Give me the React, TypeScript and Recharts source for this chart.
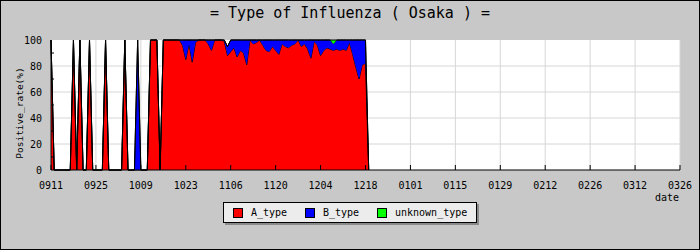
import { AreaChart, Area, XAxis, YAxis, CartesianGrid, Label } from "recharts";

// one value per day, starting 09/11 (index 0)
const aType = [
  100, 0, 0, 0, 0, 0, 0, 100, 0, 100,
  0, 0, 100, 0, 0, 0, 0, 100, 0, 0,
  0, 0, 0, 100, 0, 0, 0, 0, 0, 0,
  0, 100, 100, 100, 0, 100, 100, 100, 100, 100,
  100, 96, 85, 97, 83, 98, 100, 100, 100, 97,
  92, 100, 100, 100, 99, 88, 91, 94, 87, 92,
  90, 81, 100, 97, 98, 100, 96, 92, 91, 95,
  92, 89, 97, 95, 94, 96, 97, 100, 95, 97,
  93, 86, 99, 96, 88, 92, 94, 93, 92, 93,
  92, 93, 92, 98, 89, 79, 70, 81, 82, 0,
];

const bType = [
  0, 0, 0, 0, 0, 0, 0, 0, 0, 0,
  0, 0, 0, 0, 0, 0, 0, 0, 0, 0,
  0, 0, 0, 0, 0, 0, 0, 100, 0, 0,
  0, 0, 0, 0, 0, 0, 0, 0, 0, 0,
  0, 4, 15, 3, 17, 2, 0, 0, 0, 3,
  8, 0, 0, 0, 1, 7, 9, 6, 13, 8,
  10, 19, 0, 3, 2, 0, 4, 8, 9, 5,
  8, 11, 3, 5, 6, 4, 3, 0, 5, 3,
  7, 14, 1, 4, 12, 8, 6, 7, 5, 7,
  8, 7, 8, 2, 11, 21, 30, 19, 18, 0,
];

const unknownType = aType.map((_, i) => (i === 88 ? 3 : 0));

const dateLabels = [
  "0911", "0925", "1009", "1023", "1106", "1120", "1204", "1218",
  "0101", "0115", "0129", "0212", "0226", "0312", "0326",
];
const tickDays = dateLabels.map((_, i) => i * 14);
const yTicks = [0, 10, 20, 30, 40, 50, 60, 70, 80, 90, 100];

const series = [
  { key: "A", name: "A_type", color: "#ff0000" },
  { key: "B", name: "B_type", color: "#0000ff" },
  { key: "U", name: "unknown_type", color: "#00ff00" },
];

const data = aType.map((a, i) => ({
  day: i,
  A: a,
  B: bType[i],
  U: unknownType[i],
}));

const FONT = "'DejaVu Sans Mono', monospace";

const XTick = (props: any) => {
  const { x, y, payload } = props;
  const label = dateLabels[Math.round(payload.value / 14)];
  return (
    <g>
      <line x1={x} x2={x} y1={y} y2={y - 5} stroke="#000" />
      <text x={x} y={y + 18.5} textAnchor="middle" fontSize={10} fontFamily={FONT} fill="#000">
        {label}
      </text>
    </g>
  );
};

const YTick = (props: any) => {
  const { x, y, payload } = props;
  if (payload.value % 20 !== 0) {
    return <line x1={x} x2={x + 3} y1={y} y2={y} stroke="#000" />;
  }
  return (
    <text x={x - 9} y={y + 3.5} textAnchor="end" fontSize={10} fontFamily={FONT} fill="#000">
      {payload.value}
    </text>
  );
};

export default function App() {
  return (
    <div
      style={{
        position: "fixed",
        left: 0,
        top: 0,
        width: 700,
        height: 250,
        background: "#c8c8c8",
        overflow: "hidden",
        fontFamily: FONT,
      }}
    >
      <div
        style={{
          position: "absolute",
          left: 0,
          top: 4,
          width: 700,
          textAlign: "center",
          fontSize: 15,
          lineHeight: "18px",
          color: "#000",
        }}
      >
        = Type of Influenza ( Osaka ) =
      </div>

      <div style={{ position: "absolute", left: 0, top: 0 }}>
        <AreaChart
          width={700}
          height={250}
          data={data}
          margin={{ top: 40, right: 20, bottom: 0, left: 0 }}
        >
          <CartesianGrid
            stroke="#d6d6d6"
            fill="#ffffff"
            fillOpacity={1}
            horizontalValues={[20, 40, 60, 80]}
            verticalValues={tickDays}
          />
          {series.map((s) => (
            <Area
              key={s.key}
              type="linear"
              dataKey={s.key}
              stackId="1"
              fill={s.color}
              fillOpacity={1}
              stroke="#000"
              strokeWidth={1}
              dot={false}
              activeDot={false}
              isAnimationActive={false}
            />
          ))}
          <XAxis
            type="number"
            dataKey="day"
            domain={[0, 196]}
            ticks={tickDays}
            interval={0}
            height={80}
            tickSize={0}
            tickMargin={0}
            tickLine={false}
            axisLine={{ stroke: "#000" }}
            tick={<XTick />}
          >
            <Label
              content={() => (
                <text x={667} y={200.5} textAnchor="middle" fontSize={10} fontFamily={FONT} fill="#000">
                  date
                </text>
              )}
            />
          </XAxis>
          <YAxis
            type="number"
            domain={[0, 100]}
            ticks={yTicks}
            interval={0}
            width={51}
            tickSize={0}
            tickMargin={0}
            tickLine={false}
            axisLine={{ stroke: "#000" }}
            tick={<YTick />}
          >
            <Label
              content={() => (
                <text
                  x={19}
                  y={113}
                  transform="rotate(-90 19 113)"
                  textAnchor="middle"
                  dominantBaseline="central"
                  fontSize={9.5}
                  fontFamily={FONT}
                  fill="#000"
                >
                  Positive_rate(%)
                </text>
              )}
            />
          </YAxis>
        </AreaChart>
      </div>

      <div
        style={{
          position: "absolute",
          left: 223,
          top: 202,
          width: 254,
          height: 21,
          boxSizing: "border-box",
          background: "#ececec",
          border: "1px solid #000",
          boxShadow: "2px 2px 0 #8a8a8a",
        }}
      >
        {series.map((s, i) => (
          <div
            key={s.key}
            style={{
              position: "absolute",
              left: [9, 81, 153][i],
              top: 4,
              display: "flex",
              alignItems: "center",
              fontSize: 10,
              lineHeight: "11px",
              color: "#000",
              whiteSpace: "nowrap",
            }}
          >
            <span
              style={{
                display: "inline-block",
                width: 10,
                height: 10,
                boxSizing: "border-box",
                background: s.color,
                border: "1px solid #000",
                marginRight: 8,
              }}
            />
            {s.name}
          </div>
        ))}
      </div>

      <div
        style={{
          position: "absolute",
          inset: 0,
          border: "1px solid #000",
          boxSizing: "border-box",
          pointerEvents: "none",
        }}
      />
    </div>
  );
}
